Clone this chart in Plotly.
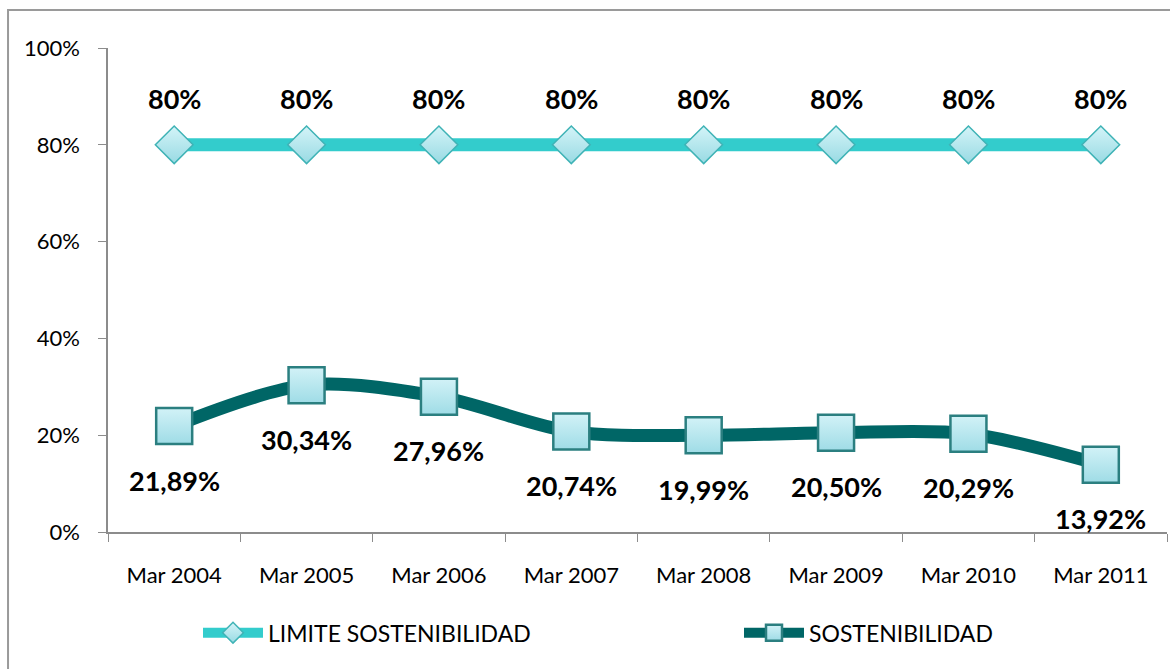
import plotly.graph_objects as go

categories = ["Mar 2004", "Mar 2005", "Mar 2006", "Mar 2007", "Mar 2008", "Mar 2009", "Mar 2010", "Mar 2011"]
limite = [0.80, 0.80, 0.80, 0.80, 0.80, 0.80, 0.80, 0.80]
sostenibilidad = [0.2189, 0.3034, 0.2796, 0.2074, 0.1999, 0.2050, 0.2029, 0.1392]
limite_labels = ["80%"] * 8
sost_labels = ["21,89%", "30,34%", "27,96%", "20,74%", "19,99%", "20,50%", "20,29%", "13,92%"]
y_ticks = [0, 0.2, 0.4, 0.6, 0.8, 1.0]
y_tick_text = ["0%", "20%", "40%", "60%", "80%", "100%"]

FONT = "Lato, 'Open Sans', sans-serif"

fig = go.Figure()
fig.add_trace(go.Scatter(
    x=categories, y=limite, name="LIMITE SOSTENIBILIDAD", mode="lines+markers",
    line=dict(color="#33CCCC", width=13),
    marker=dict(symbol="diamond", size=29, color="#D4F4F8",
                gradient=dict(type="vertical", color="#98DAE3"),
                line=dict(color="#3FB3B6", width=1.5)),
    legend="legend",
))
fig.add_trace(go.Scatter(
    x=categories, y=sostenibilidad, name="SOSTENIBILIDAD", mode="lines+markers",
    line=dict(color="#006666", width=13, shape="spline", smoothing=0.9),
    marker=dict(symbol="square", size=36, color="#D2F2F7",
                gradient=dict(type="vertical", color="#9FDCE6"),
                line=dict(color="#2B7F80", width=2.5)),
    legend="legend2",
))

for c, v, t in zip(categories, limite, limite_labels):
    fig.add_annotation(x=c, y=v, text="<b>%s</b>" % t, showarrow=False, yshift=46,
                       font=dict(family=FONT, size=27, color="#000000"))
for c, v, t in zip(categories, sostenibilidad, sost_labels):
    fig.add_annotation(x=c, y=v, text="<b>%s</b>" % t, showarrow=False, yshift=-54,
                       font=dict(family=FONT, size=27, color="#000000"))

fig.add_shape(type="rect", xref="paper", yref="paper",
              x0=-0.0944, x1=1.05, y0=-0.5, y1=1.0785,
              line=dict(color="#9A9A9A", width=2), fillcolor="rgba(0,0,0,0)", layer="below")

legend_common = dict(orientation="h", xref="container", yref="container",
                     y=0.022, xanchor="left", yanchor="bottom", itemwidth=60,
                     bgcolor="rgba(0,0,0,0)",
                     font=dict(family=FONT, size=23, color="#000000"))

fig.update_layout(
    width=1170, height=669,
    margin=dict(l=108, r=3, t=48, b=137),
    paper_bgcolor="white", plot_bgcolor="white",
    font=dict(family=FONT, size=22, color="#000000"),
    showlegend=True,
    legend=dict(x=198 / 1170, **legend_common),
    legend2=dict(x=739 / 1170, **legend_common),
    xaxis=dict(type="category", showgrid=False, showline=True, linecolor="#8C8C8C", linewidth=1.5,
               ticks="outside", tickson="boundaries", ticklen=8, tickcolor="#8C8C8C",
               range=[-0.5, 7.5], tickfont=dict(size=22), zeroline=False,
               ticklabelstandoff=23),
    yaxis=dict(range=[0, 1.0], tickvals=y_ticks, ticktext=y_tick_text, showgrid=False,
               showline=True, linecolor="#8C8C8C", linewidth=1.5, ticks="outside", ticklen=8,
               tickcolor="#8C8C8C", zeroline=False, tickfont=dict(size=22),
               ticklabelstandoff=14),
)

fig.write_html("out.html", config={"displayModeBar": False},
               post_script="document.body.style.margin='0';")
